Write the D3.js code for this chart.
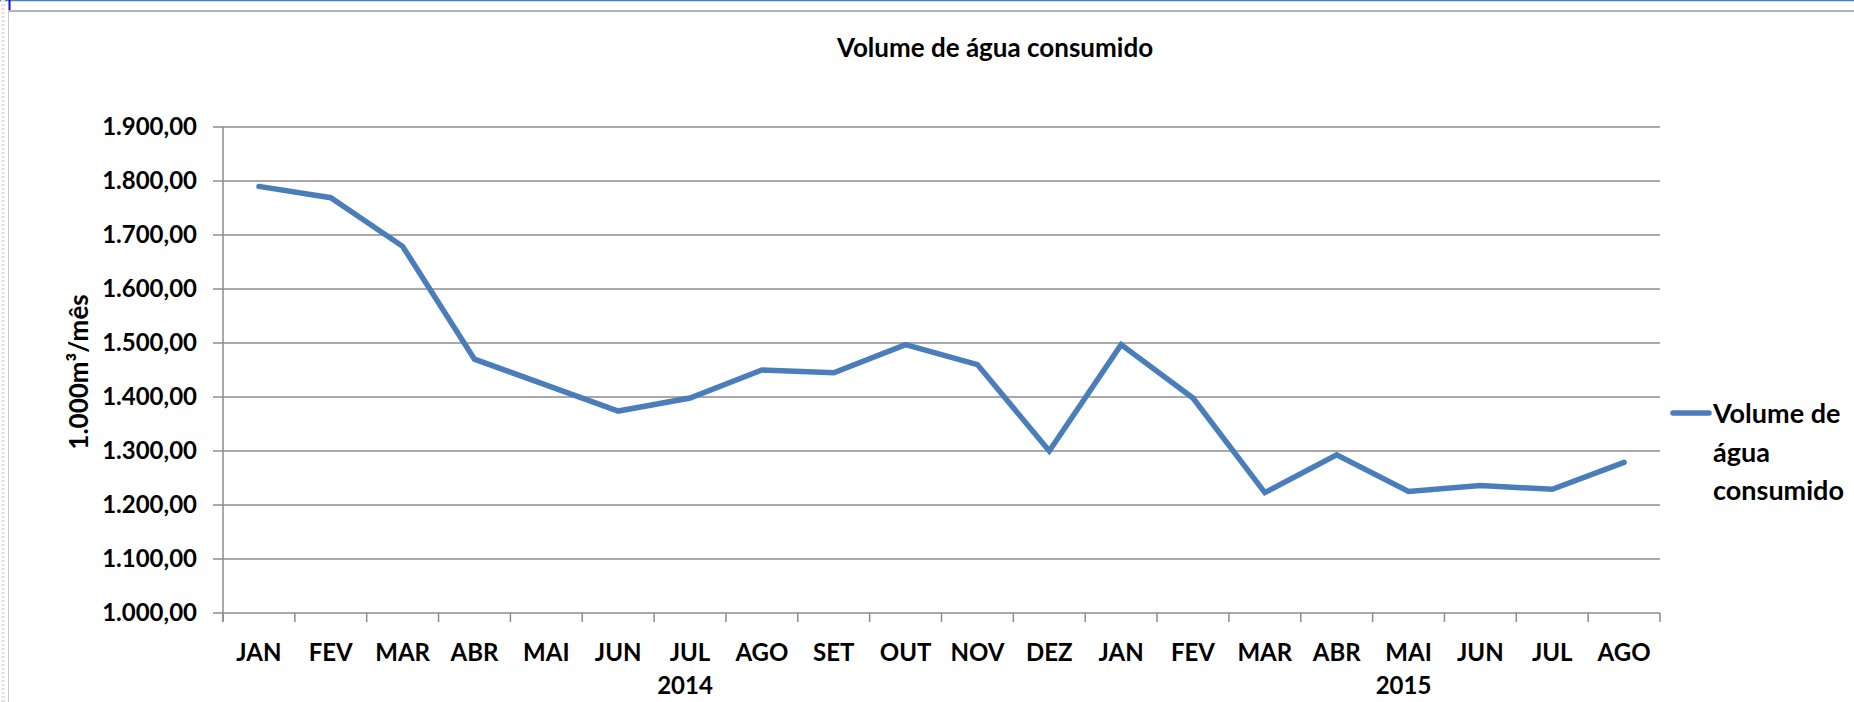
<!DOCTYPE html>
<html>
<head>
<meta charset="utf-8">
<script src="https://cdn.jsdelivr.net/npm/d3@7"></script>
<style>
    html, body { margin: 0; padding: 0; background: #fff; }
    svg { display: block; font-family: Lato, "Open Sans", sans-serif; font-weight: bold; }
</style>
</head>
<body>
<div id="chart"></div>
<script>
// --- Data ---
const months = ['JAN', 'FEV', 'MAR', 'ABR', 'MAI', 'JUN', 'JUL', 'AGO', 'SET', 'OUT', 'NOV', 'DEZ',
                'JAN', 'FEV', 'MAR', 'ABR', 'MAI', 'JUN', 'JUL', 'AGO'];
const years = ['2014', '2014', '2014', '2014', '2014', '2014', '2014', '2014', '2014', '2014', '2014', '2014',
               '2015', '2015', '2015', '2015', '2015', '2015', '2015', '2015'];
const consumo = [1790, 1769, 1679, 1470, 1422, 1374, 1398, 1450, 1445, 1497, 1460, 1300,
                 1497, 1398, 1223, 1293, 1225, 1236, 1229, 1279];
const yTicks = [1000, 1100, 1200, 1300, 1400, 1500, 1600, 1700, 1800, 1900];
const yearLabels = [{ year: '2014', at: 6 }, { year: '2015', at: 16 }];
const seriesName = ['Volume de', 'água', 'consumido'];

// --- Setup ---
const W = 1854, H = 702;
const svg = d3.select('#chart').append('svg').attr('width', W).attr('height', H);
const blue = '#4a7ebb';

// frame bits
svg.append('line').attr('x1', 0).attr('x2', W).attr('y1', 0.5).attr('y2', 0.5)
    .attr('stroke', blue).attr('stroke-width', 1.5);
svg.append('line').attr('x1', 8).attr('x2', W).attr('y1', 11).attr('y2', 11)
    .attr('stroke', '#9a9a9a').attr('stroke-width', 1.5);
svg.append('line').attr('x1', 8.5).attr('x2', 8.5).attr('y1', 11).attr('y2', H)
    .attr('stroke', '#c8c8c8').attr('stroke-width', 1);
svg.append('line').attr('x1', 3).attr('x2', 3).attr('y1', 0).attr('y2', H)
    .attr('stroke', '#e4e4e4').attr('stroke-width', 4).attr('stroke-dasharray', '2,2');
svg.append('line').attr('x1', 9.5).attr('x2', 9.5).attr('y1', 0).attr('y2', 10)
    .attr('stroke', '#1010d0').attr('stroke-width', 2);

// --- Scales ---
const x = d3.scaleBand().domain(d3.range(months.length)).range([223, 1660]).paddingInner(0).paddingOuter(0);
const y = d3.scaleLinear().domain([1000, 1900]).range([613, 127]);
const cx = i => x(i) + x.bandwidth() / 2;

// gridlines
svg.append('g').selectAll('line').data(yTicks).join('line')
    .attr('x1', 213).attr('x2', 1660)
    .attr('y1', d => y(d)).attr('y2', d => y(d))
    .attr('stroke', '#8c8c8c').attr('stroke-width', 1.5);

// y axis line
svg.append('line').attr('x1', 223).attr('x2', 223).attr('y1', y(1900)).attr('y2', y(1000) + 9)
    .attr('stroke', '#8c8c8c').attr('stroke-width', 1.5);

// x ticks at band edges
const edges = d3.range(months.length + 1).map(i => i < months.length ? x(i) : x(i - 1) + x.bandwidth());
svg.append('g').selectAll('line').data(edges).join('line')
    .attr('x1', d => d).attr('x2', d => d)
    .attr('y1', y(1000)).attr('y2', y(1000) + 9)
    .attr('stroke', '#8c8c8c').attr('stroke-width', 1.5);

// y tick labels
const fmt = d3.formatLocale({ decimal: ',', thousands: '.', grouping: [3], currency: ['R$', ''] }).format(',.2f');
svg.append('g').selectAll('text').data(yTicks).join('text')
    .attr('x', 197).attr('y', d => y(d)).attr('dy', '0.35em')
    .attr('text-anchor', 'end').attr('font-size', 24)
    .text(d => fmt(d));

// x labels
svg.append('g').selectAll('text').data(months).join('text')
    .attr('x', (d, i) => cx(i)).attr('y', 661)
    .attr('text-anchor', 'middle').attr('font-size', 24)
    .text(d => d);

// year labels (second level of the category axis)
svg.append('g').selectAll('text').data(yearLabels).join('text')
    .attr('x', d => cx(d.at) - 5).attr('y', 694)
    .attr('text-anchor', 'middle').attr('font-size', 24)
    .text(d => d.year);

// title
svg.append('text').attr('x', 995).attr('y', 57).attr('text-anchor', 'middle')
    .attr('font-size', 26).text('Volume de água consumido');

// y axis title
svg.append('text').attr('transform', 'translate(88,372) rotate(-90)')
    .attr('text-anchor', 'middle').attr('font-size', 26).text('1.000m³/mês');

// series line
const line = d3.line().x((d, i) => cx(i)).y(d => y(d));
svg.append('path').datum(consumo)
    .attr('d', line).attr('fill', 'none')
    .attr('stroke', blue).attr('stroke-width', 5.5)
    .attr('stroke-linecap', 'round').attr('stroke-linejoin', 'miter');

// legend
const legend = svg.append('g');
legend.append('line').attr('x1', 1673).attr('x2', 1709).attr('y1', 413).attr('y2', 413)
    .attr('stroke', blue).attr('stroke-width', 5.5).attr('stroke-linecap', 'round');
legend.selectAll('text').data(seriesName).join('text')
    .attr('x', 1713).attr('y', (d, i) => 423 + i * 38.5)
    .attr('font-size', 27).text(d => d);
</script>
</body>
</html>
